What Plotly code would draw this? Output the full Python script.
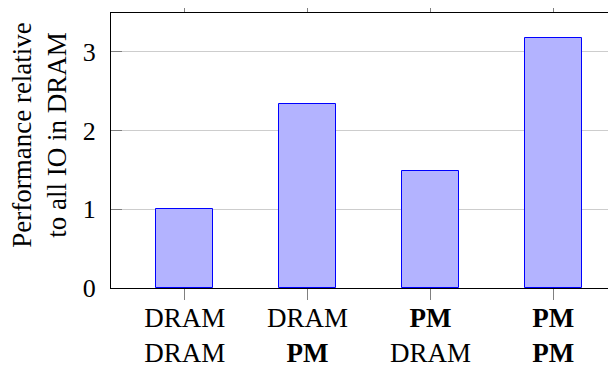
import plotly.graph_objects as go

categories = ["DRAM<br>DRAM", "DRAM<br><b>PM</b>", "<b>PM</b><br>DRAM", "<b>PM</b><br><b>PM</b>"]
values = [1.0, 2.34, 1.49, 3.17]
y_ticks = [0, 1, 2, 3]
y_title = "Performance relative<br>to all IO in DRAM"

# page has an 8px default body margin; size the figure to fit the window
OFF = 8
W, H = 616 - OFF, 369 - OFF
L, T = 111 - OFF, 13 - OFF
B = H - (288.5 - OFF)
R = 0
pw = W - L - R
ph = H - T - B

xs = list(range(len(values)))
FONT = "Liberation Serif"

fig = go.Figure()
fig.add_trace(go.Bar(
    x=xs, y=values, width=0.46,
    marker=dict(color="rgb(179,179,255)", line=dict(color="rgb(0,0,255)", width=1)),
))

fig.update_layout(
    width=W, height=H,
    margin=dict(l=L, r=R, t=T, b=B, pad=0, autoexpand=False),
    plot_bgcolor="white", paper_bgcolor="white",
    showlegend=False,
    font=dict(family=FONT, size=27, color="black"),
    xaxis=dict(
        range=[-0.6, 3.51], tickmode="array", tickvals=xs, ticktext=categories,
        tickfont=dict(family=FONT, size=27, color="black"),
        showline=True, linecolor="black", linewidth=1.2, mirror="ticks",
        ticks="outside", ticklen=11, tickcolor="rgb(128,128,128)", tickwidth=1,
        showgrid=False, zeroline=False, ticklabelstandoff=-6, automargin=False,
    ),
    yaxis=dict(
        range=[0, 3.49], tickmode="array", tickvals=y_ticks,
        ticktext=[str(v) for v in y_ticks],
        tickfont=dict(family=FONT, size=26, color="black"),
        showline=True, linecolor="black", linewidth=1.2, mirror=False,
        ticks="inside", ticklen=11, tickcolor="rgb(128,128,128)", tickwidth=1,
        showgrid=True, gridcolor="rgb(205,205,205)", gridwidth=1,
        zeroline=False, ticklabelstandoff=9, automargin=False,
    ),
    bargap=0,
)

fig.add_annotation(
    text=y_title, xref="paper", yref="paper",
    x=(40 - 111) / pw, y=(288.5 - 135) / ph,
    xanchor="center", yanchor="middle", textangle=-90, showarrow=False,
    font=dict(family=FONT, size=27, color="black"),
)

fig.write_html("out.html")
